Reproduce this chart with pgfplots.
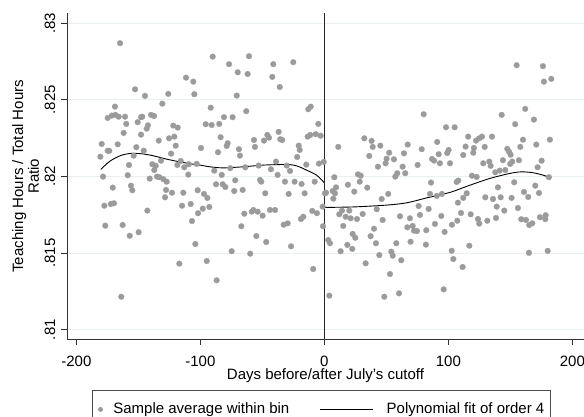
\documentclass[border=0pt]{standalone}
\usepackage{fontspec}
\setmainfont{Liberation Sans}
\usepackage{pgfplots}
\pgfplotsset{compat=1.18}
\definecolor{markgray}{RGB}{155,155,155}
\definecolor{gridcol}{RGB}{232,240,242}

\begin{document}
\fontsize{15}{18}\selectfont
\begin{tikzpicture}
\begin{axis}[
    scale only axis,
    width=517pt, height=326pt,
    xmin=-207.6, xmax=209.4,
    ymin=0.80937, ymax=0.83065,
    axis x line*=bottom, axis y line*=left,
    axis line style={-, black!80, line width=0.8pt},
    every outer x axis line/.append style={-},
    every outer y axis line/.append style={-},
    tick align=outside, major tick length=5.5pt,
    tick style={black!80, line width=0.8pt},
    xtick={-200,-100,0,100,200},
    xticklabels={-200,-100,0,100,200},
    ytick={0.81,0.815,0.82,0.825,0.83},
    yticklabels={.81,.815,.82,.825,.83},
    ymajorgrids, grid style={gridcol, line width=0.8pt},
    every tick label/.append style={font=\fontsize{15}{18}\selectfont, inner sep=0pt},
    xticklabel style={anchor=base}, xticklabel shift=21.5pt,
    yticklabel style={anchor=base, rotate=90}, yticklabel shift=6.4pt,
    xlabel={Days before/after July's cutoff},
    xlabel style={at={(axis description cs:0.5,0)}, anchor=base, yshift=-40.5pt, inner sep=0pt, font=\fontsize{15}{18}\selectfont},
    ylabel={Teaching Hours / Total Hours\\Ratio},
    ylabel style={align=center, inner sep=0pt, at={(axis description cs:-0.0536,0.5)}, anchor=south, font=\fontsize{15}{15.8}\selectfont},
    legend columns=2, legend cell align=left,
    legend style={at={(0.04836,-0.1555)}, anchor=north west, draw=black!70, line width=0.8pt,
        inner xsep=5.7pt, inner ysep=12.5pt, nodes={inner sep=0pt},
        font=\fontsize{15}{18}\selectfont,
        /tikz/every even column/.append style={column sep=30pt},
        /tikz/every odd column/.append style={column sep=10.5pt}},
]
\addplot[color=markgray, only marks, mark=*, mark size=2.9pt,
    mark options={solid, fill=markgray, draw=markgray, line width=0.2pt},
    legend image code/.code={\fill[markgray] (2pt,0pt) circle (2pt);}]
table {
x y
-164.8 0.82870
-152.7 0.82569
-144.7 0.82526
-111.6 0.82645
-105.7 0.82619
-104.9 0.82537
-125.9 0.82539
-130.7 0.82475
-168.9 0.82456
-174.8 0.82382
-171.5 0.82397
-168.6 0.82402
-165.9 0.82390
-160.8 0.82390
-159.8 0.82343
-161.9 0.82284
-147.9 0.82273
-150.6 0.82354
-147.9 0.82387
-146.9 0.82390
-142.3 0.82334
-143.3 0.82312
-139.8 0.82402
-137.4 0.82395
-133.6 0.82234
-125.3 0.82249
-121.0 0.82260
-121.9 0.82332
-118.3 0.82319
-119.9 0.82201
-179.6 0.82212
-174.8 0.82168
-173.5 0.82167
-180.7 0.82129
-166.7 0.82210
-151.7 0.82191
-145.7 0.82168
-153.8 0.82136
-123.7 0.82149
-157.6 0.82075
-138.8 0.82080
-136.0 0.82069
-137.2 0.82042
-131.8 0.82103
-118.6 0.82075
-115.9 0.82101
-113.0 0.82060
-109.4 0.82080
-103.0 0.82082
-178.5 0.81999
-158.6 0.82008
-140.9 0.81986
-135.0 0.81999
-133.1 0.81995
-129.9 0.81982
-127.2 0.81966
-109.8 0.82012
-170.7 0.81927
-156.0 0.81940
-154.9 0.81910
-127.7 0.81912
-122.9 0.81894
-113.8 0.81894
-128.5 0.81864
-102.2 0.81910
-99.5 0.82186
-177.5 0.81809
-172.3 0.81820
-169.7 0.81825
-176.7 0.81679
-162.7 0.81683
-157.0 0.81613
-149.8 0.81636
-142.8 0.81777
-114.8 0.81809
-107.8 0.81820
-106.8 0.81709
-104.1 0.81559
-101.9 0.81760
-117.0 0.81431
-163.8 0.81215
-90.1 0.82782
-76.9 0.82733
-60.8 0.82785
-69.9 0.82680
-61.9 0.82669
-41.2 0.82733
-25.1 0.82746
-42.0 0.82650
-36.0 0.82584
-70.7 0.82528
-91.7 0.82449
-63.0 0.82426
-13.0 0.82439
-11.0 0.82456
-81.0 0.82387
-74.0 0.82387
-95.7 0.82341
-90.9 0.82336
-84.8 0.82343
-4.9 0.82343
-83.7 0.82256
-78.0 0.82217
-78.8 0.82199
-68.9 0.82178
-85.8 0.82158
-68.1 0.82136
-56.8 0.82238
-56.0 0.82193
-48.7 0.82234
-46.0 0.82271
-44.7 0.82253
-36.9 0.82291
-35.6 0.82243
-34.0 0.82238
-20.7 0.82201
-19.9 0.82173
-13.5 0.82260
-11.4 0.82271
-7.0 0.82276
-3.0 0.82266
-21.9 0.82127
-88.8 0.82038
-82.8 0.82010
-75.9 0.82054
-63.8 0.82060
-53.0 0.82071
-43.1 0.82047
-39.0 0.82097
-37.7 0.82010
-30.4 0.82071
-27.7 0.82036
-14.6 0.82077
-4.4 0.82084
-0.5 0.82095
-71.9 0.81975
-87.4 0.81949
-82.0 0.81949
-79.9 0.81931
-51.9 0.81977
-50.9 0.81966
-31.8 0.81966
-24.0 0.81966
-18.4 0.81951
-7.8 0.81966
-97.1 0.81886
-94.4 0.81860
-72.7 0.81905
-65.9 0.81912
-47.7 0.81890
-28.8 0.81886
-15.9 0.81890
-92.8 0.81801
-98.1 0.81790
-64.6 0.81757
-58.6 0.81770
-57.3 0.81781
-53.8 0.81770
-49.8 0.81744
-43.9 0.81781
-39.8 0.81781
-67.0 0.81675
-54.9 0.81611
-46.9 0.81572
-32.8 0.81685
-29.6 0.81694
-18.9 0.81722
-17.0 0.81737
-9.8 0.81775
-6.0 0.81760
-1.4 0.81803
-1.1 0.81675
-74.8 0.81512
-59.8 0.81496
-26.9 0.81544
-94.9 0.81448
-86.9 0.81322
-9.0 0.81396
1.3 0.81894
3.1 0.81585
4.0 0.81222
4.5 0.81564
80.1 0.82406
98.1 0.82321
105.1 0.82321
32.2 0.82249
38.1 0.82232
45.1 0.82201
39.0 0.82193
11.2 0.82193
67.2 0.82208
52.3 0.82155
36.2 0.82134
56.1 0.82112
49.4 0.82086
50.2 0.82116
64.2 0.82151
43.2 0.82064
78.5 0.82178
91.0 0.82225
92.2 0.82145
86.8 0.82114
88.5 0.82103
93.2 0.82086
99.1 0.82153
100.2 0.82173
101.3 0.82086
75.2 0.82075
63.1 0.82064
57.2 0.81999
58.8 0.82021
65.2 0.82021
8.0 0.81995
27.1 0.82014
29.3 0.82005
28.5 0.81966
0.5 0.81890
6.7 0.81905
9.4 0.81929
8.5 0.81890
19.0 0.81946
24.1 0.81901
34.6 0.81927
51.5 0.81886
86.0 0.81960
85.2 0.81886
90.6 0.81873
94.8 0.81886
106.7 0.81964
108.0 0.81973
155.1 0.82726
176.3 0.82720
177.1 0.82619
183.0 0.82637
162.0 0.82441
143.0 0.82402
169.0 0.82371
153.9 0.82341
116.0 0.82260
122.3 0.82234
124.9 0.82249
127.1 0.82260
135.2 0.82260
113.9 0.82195
120.6 0.82186
129.3 0.82193
112.0 0.82140
120.1 0.82155
160.2 0.82240
158.0 0.82193
170.9 0.82208
181.9 0.82240
147.5 0.82180
148.9 0.82162
150.2 0.82142
144.0 0.82106
151.5 0.82097
156.9 0.82106
149.9 0.82082
128.1 0.82086
133.0 0.82097
134.1 0.82069
175.2 0.82103
172.0 0.82060
137.8 0.82027
141.4 0.82038
145.9 0.82042
119.0 0.82005
122.8 0.81997
181.1 0.81995
140.0 0.81929
153.1 0.81962
170.1 0.81940
161.0 0.81899
164.4 0.81866
173.1 0.81892
114.8 0.81890
112.0 0.81860
129.8 0.81864
136.0 0.81853
142.2 0.81864
151.0 0.81860
107.7 0.81829
139.0 0.81803
145.1 0.81777
156.1 0.81794
110.2 0.81762
102.9 0.81685
107.2 0.81711
118.0 0.81753
123.9 0.81722
124.9 0.81692
131.4 0.81711
138.4 0.81729
158.8 0.81721
162.6 0.81716
165.2 0.81683
167.7 0.81694
173.9 0.81734
178.5 0.81747
178.2 0.81721
116.9 0.81548
102.7 0.81515
104.0 0.81461
111.5 0.81409
165.0 0.81502
180.1 0.81514
7.2 0.81855
46.2 0.81853
12.0 0.81753
14.2 0.81777
20.1 0.81777
17.2 0.81737
21.2 0.81727
26.3 0.81722
30.9 0.81755
15.2 0.81677
22.8 0.81625
24.9 0.81600
18.5 0.81553
22.5 0.81527
13.1 0.81512
40.0 0.81659
37.3 0.81610
41.6 0.81564
47.0 0.81716
42.2 0.81786
33.3 0.81433
44.3 0.81487
54.0 0.81509
55.1 0.81483
58.0 0.81564
62.0 0.81453
52.9 0.81363
48.3 0.81215
60.2 0.81237
61.0 0.81740
66.9 0.81668
69.0 0.81727
71.2 0.81677
72.3 0.81646
74.7 0.81644
69.5 0.81574
76.0 0.81807
77.1 0.81749
84.1 0.81788
82.2 0.81649
81.9 0.81555
89.2 0.81690
94.3 0.81742
97.0 0.81638
96.2 0.81263
};
\addlegendentry{Sample average within bin}
% polynomial fits, left and right of the cutoff
\addplot[black, line width=0.9pt, smooth,
    legend image code/.code={\draw[black, line width=0.9pt] (0pt,0pt) -- (53.4pt,0pt); \path (56pt,0pt);}]
coordinates {
(-180.4,0.82046) (-172.9,0.82100) (-164.8,0.82135) (-156.8,0.82150) (-147.3,0.82148)
(-138,0.82135) (-127.2,0.82113) (-116.5,0.82095) (-105.7,0.82080) (-100.3,0.82074)
(-92.3,0.82063) (-81.8,0.82056) (-65.6,0.82063) (-49.5,0.82074) (-30.4,0.82078)
(-22.3,0.82069) (-14.3,0.82041) (-6.2,0.82008) (0,0.81958)
};
\addlegendentry{Polynomial fit of order 4\hspace{8pt}}
\addplot[black, line width=0.9pt, smooth, forget plot]
coordinates {
(0,0.81798) (23.3,0.81801) (50.2,0.81813) (66.4,0.81828) (82.5,0.81860)
(101.3,0.81896) (117.4,0.81943) (133.5,0.81987) (149.7,0.82020) (159.1,0.82030)
(168.5,0.82024) (176.5,0.82008) (182.7,0.81991)
};
\addplot[black!85, line width=0.8pt, forget plot] coordinates {(0,0.80937) (0,0.83065)};
\end{axis}
\pgfresetboundingbox
\path (-67pt,-76.7pt) rectangle (517pt,339.3pt);
\end{tikzpicture}
\end{document}
